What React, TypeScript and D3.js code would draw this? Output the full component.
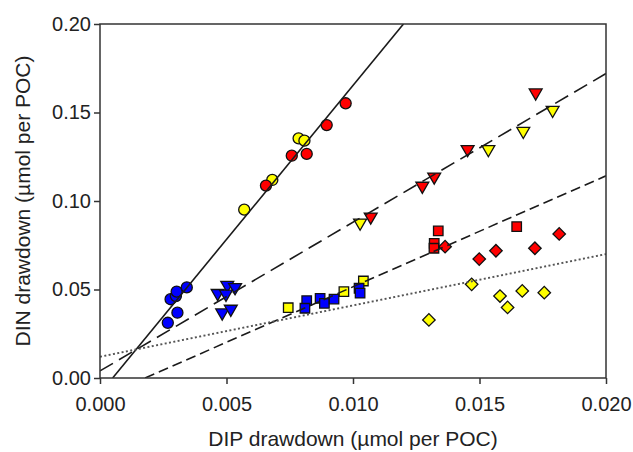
import * as d3 from 'd3';
import React, { useEffect, useRef } from 'react';

// Scatter of DIN vs DIP drawdown
const blueCircles = [
  [0.00268, 0.0312], [0.00306, 0.0369], [0.00279, 0.0445],
  [0.003, 0.0463], [0.00303, 0.0488], [0.00343, 0.0512]
];
const yellowCircles = [
  [0.0057, 0.0951], [0.00681, 0.1119], [0.00785, 0.1354], [0.00808, 0.1341]
];
const redCircles = [
  [0.00656, 0.1087], [0.00758, 0.1256], [0.00817, 0.1266],
  [0.00896, 0.1429], [0.00971, 0.1552]
];
const blueTriangles = [
  [0.00465, 0.0479], [0.00503, 0.0525], [0.00534, 0.0512],
  [0.00498, 0.0475], [0.00483, 0.0369], [0.00517, 0.039]
];
const yellowTriangles = [
  [0.01028, 0.0877], [0.01535, 0.1292], [0.01673, 0.1395], [0.01789, 0.1514]
];
const redTriangles = [
  [0.0107, 0.0911], [0.01274, 0.1085], [0.01321, 0.1137],
  [0.01453, 0.1292], [0.01722, 0.1612]
];
const blueSquares = [
  [0.00817, 0.0437], [0.0081, 0.0394], [0.0087, 0.045], [0.00887, 0.0422],
  [0.00925, 0.0446], [0.01024, 0.0507], [0.01028, 0.0479]
];
const yellowSquares = [
  [0.00744, 0.0397], [0.00964, 0.0488], [0.01041, 0.0548]
];
const redSquares = [
  [0.01337, 0.0831], [0.01321, 0.0761], [0.0132, 0.0733], [0.01647, 0.0855]
];
const redDiamonds = [
  [0.01364, 0.0742], [0.01499, 0.0672], [0.01565, 0.0719],
  [0.01719, 0.0733], [0.01815, 0.0814]
];
const yellowDiamonds = [
  [0.013, 0.0328], [0.01469, 0.0529], [0.01581, 0.0463],
  [0.01611, 0.0399], [0.01669, 0.0492], [0.01756, 0.0482]
];

// regression fits: slope, intercept
const fitSlopes = [17.4, 8.4, 6.27, 2.9];
const fitIntercepts = [-0.0087, 0.004, -0.01117, 0.012];
const fitDashes = ['none', '15,7', '10,5', '2,2.4'];
const fitColors = ['#1a1a1a', '#1a1a1a', '#1a1a1a', '#555'];

const xTicks = [0, 0.005, 0.01, 0.015, 0.02];
const yTicks = [0, 0.05, 0.1, 0.15, 0.2];

const width = 633;
const height = 452;
const margin = { top: 24, right: 27, bottom: 74, left: 100 };

export default function App() {
  const ref = useRef<SVGSVGElement>(null);

  useEffect(() => {
    const svg = d3.select(ref.current);
    svg.selectAll('*').remove();

    const x = d3.scaleLinear().domain([0, 0.02]).range([margin.left, width - margin.right]);
    const y = d3.scaleLinear().domain([0, 0.2]).range([height - margin.bottom, margin.top]);
    const font = 'Liberation Sans, Arial, sans-serif';

    svg.append('defs').append('clipPath').attr('id', 'plotClip')
      .append('rect')
      .attr('x', x(0)).attr('y', y(0.2))
      .attr('width', x(0.02) - x(0)).attr('height', y(0) - y(0.2));

    // markers
    const series = [
      { data: blueCircles, color: '#0000ff', shape: 'circle' },
      { data: blueTriangles, color: '#0000ff', shape: 'tri' },
      { data: yellowSquares, color: '#ffff00', shape: 'square' },
      { data: blueSquares, color: '#0000ff', shape: 'square' },
      { data: yellowCircles, color: '#ffff00', shape: 'circle' },
      { data: redCircles, color: '#ff0000', shape: 'circle' },
      { data: yellowTriangles, color: '#ffff00', shape: 'tri' },
      { data: redTriangles, color: '#ff0000', shape: 'tri' },
      { data: redSquares, color: '#ff0000', shape: 'square' },
      { data: redDiamonds, color: '#ff0000', shape: 'diamond' },
      { data: yellowDiamonds, color: '#ffff00', shape: 'diamond' }
    ];
    const symbolFor = (shape: string) => {
      if (shape === 'circle') return d3.symbol(d3.symbolCircle, 96)();
      if (shape === 'square') return d3.symbol(d3.symbolSquare, 90)();
      if (shape === 'diamond') return d3.symbol(d3.symbolSquare, 78)();
      return d3.symbol(d3.symbolTriangle, 72)();
    };
    const rot = (shape: string) =>
      shape === 'diamond' ? ' rotate(45)' : shape === 'tri' ? ' rotate(180)' : '';

    const markers = svg.append('g');
    series.forEach((s) => {
      markers.selectAll(null)
        .data(s.data)
        .enter()
        .append('path')
        .attr('d', symbolFor(s.shape))
        .attr('transform', (d) => `translate(${x(d[0])},${y(d[1])})${rot(s.shape)}`)
        .attr('fill', s.color)
        .attr('stroke', '#111')
        .attr('stroke-width', 1.3);
    });

    // fit lines on top of markers
    const lines = svg.append('g').attr('clip-path', 'url(#plotClip)');
    fitSlopes.forEach((m, i) => {
      const b = fitIntercepts[i];
      const x0 = Math.max(0, -b / m);
      const x1 = Math.min(0.02, (0.2 - b) / m);
      lines.append('line')
        .attr('x1', x(x0)).attr('y1', y(m * x0 + b))
        .attr('x2', x(x1)).attr('y2', y(m * x1 + b))
        .attr('stroke', fitColors[i])
        .attr('stroke-width', i === 3 ? 1.9 : 1.6)
        .attr('stroke-dasharray', fitDashes[i]);
    });

    // frame
    svg.append('rect')
      .attr('x', x(0)).attr('y', y(0.2))
      .attr('width', x(0.02) - x(0)).attr('height', y(0) - y(0.2))
      .attr('fill', 'none').attr('stroke', '#333').attr('stroke-width', 1.5);

    const xAxis = svg.append('g')
      .attr('transform', `translate(0,${y(0)})`)
      .call(d3.axisBottom(x).tickValues(xTicks).tickFormat(d3.format('.3f')).tickSize(6).tickPadding(13));
    const yAxis = svg.append('g')
      .attr('transform', `translate(${x(0)},0)`)
      .call(d3.axisLeft(y).tickValues(yTicks).tickFormat(d3.format('.2f')).tickSize(6).tickPadding(3));
    [xAxis, yAxis].forEach((g) => {
      g.select('.domain').remove();
      g.selectAll('line').attr('stroke', '#333').attr('stroke-width', 1.5);
      g.selectAll('text').attr('font-family', font).attr('font-size', 20).attr('fill', '#222');
    });

    svg.append('text')
      .attr('x', (x(0) + x(0.02)) / 2).attr('y', 446)
      .attr('text-anchor', 'middle')
      .attr('font-family', font).attr('font-size', 21).attr('fill', '#222')
      .text('DIP drawdown (µmol per POC)');

    svg.append('text')
      .attr('transform', `translate(30,${(y(0) + y(0.2)) / 2}) rotate(-90)`)
      .attr('text-anchor', 'middle')
      .attr('font-family', font).attr('font-size', 21).attr('fill', '#222')
      .text('DIN drawdown (µmol per POC)');
  }, []);

  return (
    <svg
      ref={ref}
      width={width}
      height={height}
      style={{ position: 'absolute', left: 0, top: 0, background: '#fff' }}
    />
  );
}
